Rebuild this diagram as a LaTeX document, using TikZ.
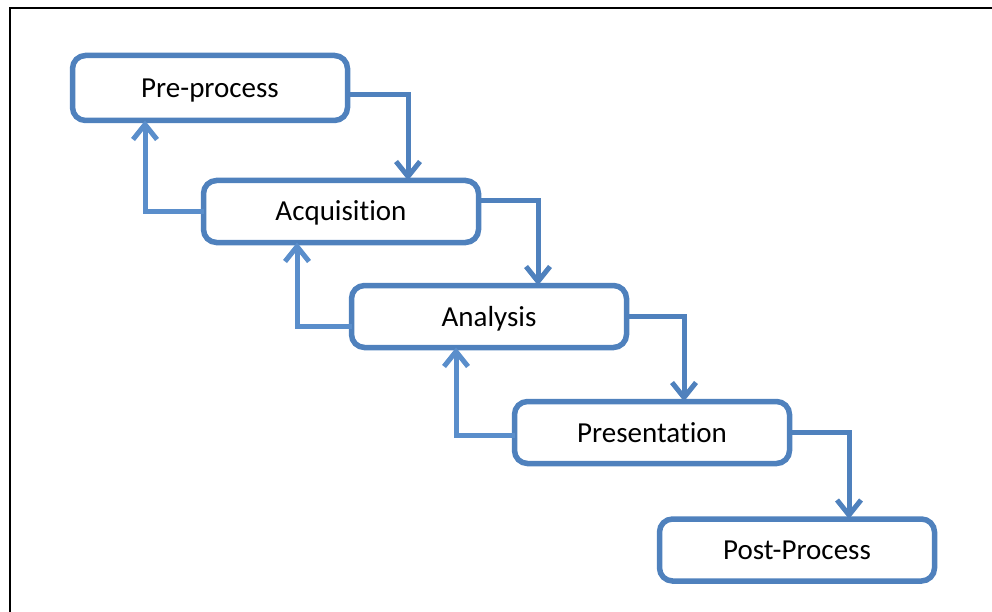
\documentclass[tikz,border=0pt]{standalone}
\usepackage{fontspec}
\setmainfont{Carlito}[Ligatures={NoCommon}]
\usetikzlibrary{arrows.meta}
\definecolor{stepblue}{HTML}{4F81BD}
\definecolor{backblue}{HTML}{5A8ECB}
\tikzset{
  stage/.style={draw=stepblue, line width=5.5pt, rounded corners=13pt,
    minimum width=275pt, minimum height=62pt, inner sep=0pt, outer sep=0pt,
    font=\fontsize{29}{34}\selectfont, text=black,
    text height=19pt, text depth=0pt},
  fwd/.style={draw=stepblue, line width=5pt,
    -{Straight Barb[length=15pt, width=24pt, line width=5pt]}},
  back/.style={draw=backblue, line width=5pt,
    -{Straight Barb[length=15pt, width=24pt, line width=5pt]}}
}
\begin{document}
\begin{tikzpicture}[x=1pt, y=-1pt]
  \useasboundingbox (0,0) rectangle (992,612);
  % page frame (top and left rules)
  \draw[line width=2.5pt, black] (10,612) -- (10,8) -- (992,8);

  % stages
  \node[stage, minimum height=65pt] (pre)  at (210,88)   {Pre-process};
  \node[stage] (acq)  at (341,211.5) {Acquisition};
  \node[stage] (ana)  at (489,316.5) {Analysis};
  \node[stage] (pres) at (652,432.5) {Presentation};
  \node[stage] (post) at (797,550)   {Post-Process};

  % forward flow
  \draw[fwd] ([yshift=-7pt]pre.east)  -| ([xshift=67pt]acq.north);
  \draw[fwd] ([yshift=11pt]acq.east)  -| ([xshift=49pt]ana.north);
  \draw[fwd] (ana.east)               -| ([xshift=32pt]pres.north);
  \draw[fwd] (pres.east)              -| ([xshift=52pt]post.north);

  % feedback flow
  \draw[back] (acq.west)               -| ([xshift=-65pt]pre.south);
  \draw[back] ([yshift=-9.5pt]ana.west) -| ([xshift=-44pt]acq.south);
  \draw[back] ([yshift=-2.5pt]pres.west) -| ([xshift=-33pt]ana.south);
\end{tikzpicture}
\end{document}
